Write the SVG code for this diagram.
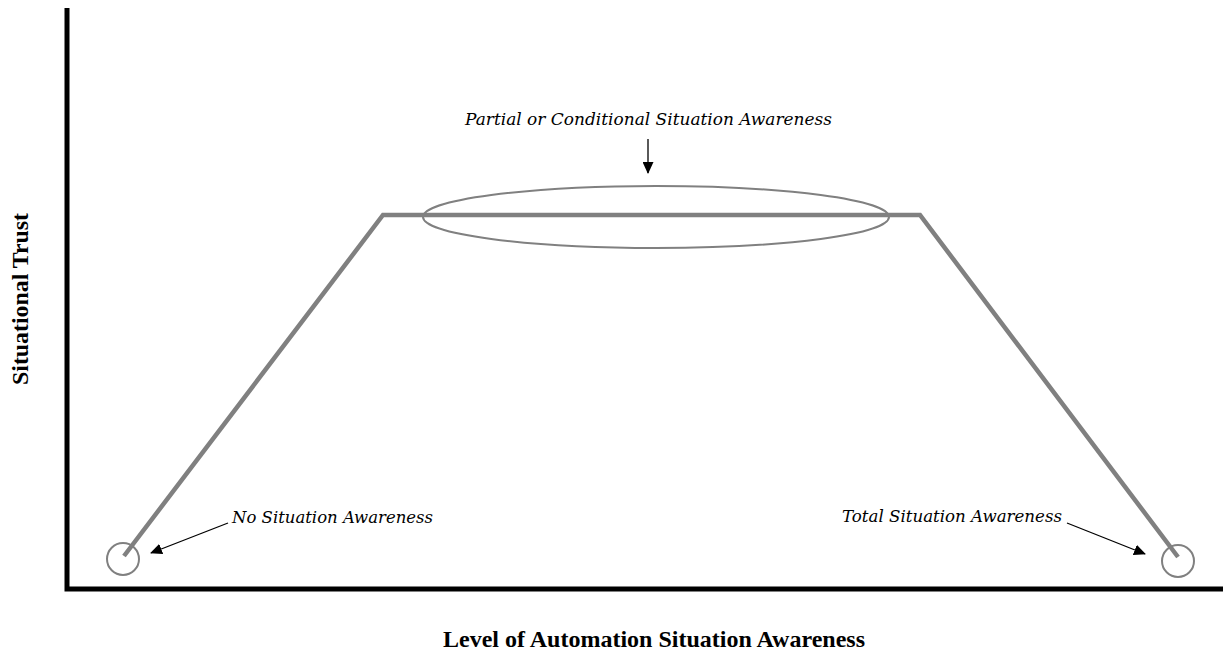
<svg xmlns="http://www.w3.org/2000/svg" width="1223" height="654" viewBox="0 0 1223 654">
<defs>
<style>
.axis{stroke:#000;stroke-width:5;fill:none}
.curve{stroke:#808080;stroke-width:4.5;fill:none;stroke-linejoin:miter}
.mark{stroke:#808080;stroke-width:2;fill:none}
.arr{stroke:#000;stroke-width:1.3;fill:none;marker-end:url(#ah)}
.lbl{font-family:"DejaVu Serif","Liberation Serif",serif;font-style:italic;font-size:17px;fill:#000}
.ax{font-family:"Liberation Serif","Times New Roman",serif;font-weight:bold;font-size:24px;fill:#000}
</style>
<marker id="ah" markerWidth="12" markerHeight="11" refX="11" refY="5.5" orient="auto" markerUnits="userSpaceOnUse">
<path d="M0,0 L12,5.5 L0,11 Z" fill="#000"/>
</marker>
</defs>
<rect width="1223" height="654" fill="#fff"/>
<g id="axes">
<path class="axis" d="M67,8 V589 H1223"/>
</g>
<g id="curve">
<path class="curve" d="M124,556 L383,215 H920 L1178,557"/>
</g>
<g id="no-sa">
<circle class="mark" cx="123" cy="559" r="16"/>
<text class="lbl" x="232" y="523" textLength="201" lengthAdjust="spacingAndGlyphs">No Situation Awareness</text>
</g>
<g id="total-sa">
<circle class="mark" cx="1178" cy="561" r="16"/>
<text class="lbl" x="842" y="522" textLength="220" lengthAdjust="spacingAndGlyphs">Total Situation Awareness</text>
</g>
<g id="partial-sa">
<ellipse class="mark" cx="656" cy="217" rx="233" ry="31"/>
<text class="lbl" x="465" y="125" textLength="367" lengthAdjust="spacingAndGlyphs">Partial or Conditional Situation Awareness</text>
</g>
<g id="connectors">
<line class="arr" x1="648" y1="139" x2="648" y2="173"/>
<line class="arr" x1="228" y1="523" x2="151" y2="553"/>
<line class="arr" x1="1067" y1="523" x2="1145" y2="554"/>
</g>
<g id="labels">
<text class="ax" x="654" y="647" text-anchor="middle" textLength="422" lengthAdjust="spacingAndGlyphs">Level of Automation Situation Awareness</text>
<text class="ax" transform="translate(28,299) rotate(-90)" text-anchor="middle" textLength="172" lengthAdjust="spacingAndGlyphs">Situational Trust</text>
</g>
</svg>
